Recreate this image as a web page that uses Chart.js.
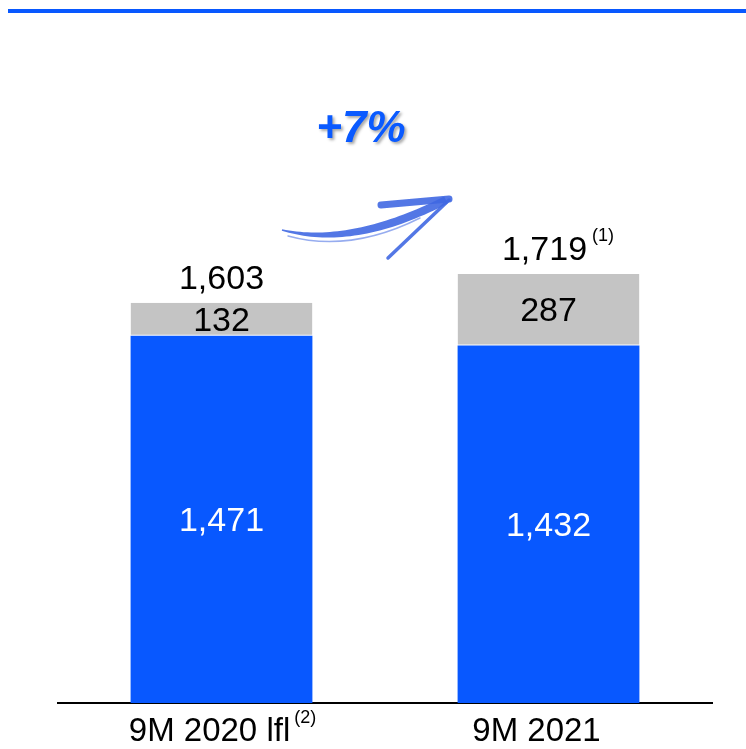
<!DOCTYPE html>
<html>
<head>
<meta charset="utf-8">
<script src="https://cdn.jsdelivr.net/npm/chart.js@4.4.1/dist/chart.umd.min.js"></script>
<style>
  html, body { margin: 0; padding: 0; background: #ffffff; }
</style>
</head>
<body>
<canvas id="chart" width="746" height="749"></canvas>
<script>
const periods = ['9M 2020 lfl', '9M 2021'];
const periodNotes = ['(2)', ''];
const baseValues = [1471, 1432];
const otherValues = [132, 287];
const totalNotes = ['', '(1)'];
const growthLabel = '+7%';

const BLUE = '#0858ff';
const GREY = '#c4c4c4';
const FONT = '"Liberation Sans", Arial, sans-serif';

const fmt = v => v.toLocaleString('en-US');

// thin blue rule across the top
const topRule = {
    id: 'topRule',
    beforeDraw(chart) {
        const ctx = chart.ctx;
        ctx.save();
        ctx.fillStyle = BLUE;
        ctx.fillRect(8, 9, chart.width - 8, 4);
        ctx.restore();
    }
};

// values inside the segments, totals above, footnote marks
const barText = {
    id: 'barText',
    afterDatasetsDraw(chart) {
        const ctx = chart.ctx;
        ctx.save();
        ctx.textAlign = 'center';
        ctx.textBaseline = 'middle';
        ctx.font = '34px ' + FONT;
        chart.data.datasets.forEach((ds, di) => {
            chart.getDatasetMeta(di).data.forEach((bar, i) => {
                ctx.fillStyle = di === 0 ? '#ffffff' : '#000000';
                ctx.fillText(fmt(ds.data[i]), bar.x, (bar.y + bar.base) / 2 + 2);
            });
        });

        ctx.textBaseline = 'alphabetic';
        chart.getDatasetMeta(1).data.forEach((bar, i) => {
            const total = baseValues[i] + otherValues[i];
            const txt = fmt(total);
            const shift = totalNotes[i] ? -4 : 0;
            const y = bar.y - 14;
            ctx.font = '34px ' + FONT;
            ctx.fillStyle = '#000000';
            ctx.textAlign = 'center';
            ctx.fillText(txt, bar.x + shift, y);
            if (totalNotes[i]) {
                const w = ctx.measureText(txt).width;
                ctx.font = '18px ' + FONT;
                ctx.textAlign = 'left';
                ctx.fillText(totalNotes[i], bar.x + shift + w / 2 + 5, y - 19);
            }
        });

        // footnote marks next to the category labels
        const xs = chart.scales.x;
        xs.getLabelItems().forEach((item, i) => {
            if (!periodNotes[i]) return;
            ctx.font = '33px ' + FONT;
            const w = ctx.measureText(periods[i]).width;
            const x = item.options.translation[0];
            ctx.font = '18px ' + FONT;
            ctx.textAlign = 'left';
            ctx.fillStyle = '#000000';
            ctx.fillText(periodNotes[i], x + w / 2 + 4, 742 - 19);
        });
        ctx.restore();
    }
};

// point on a quadratic curve
function qpt(p0, p1, p2, t) {
    const u = 1 - t;
    return [u * u * p0[0] + 2 * u * t * p1[0] + t * t * p2[0],
            u * u * p0[1] + 2 * u * t * p1[1] + t * t * p2[1]];
}

// growth badge with a brush-stroke arrow
const growth = {
    id: 'growth',
    afterDraw(chart) {
        const ctx = chart.ctx;
        ctx.save();
        ctx.font = 'italic bold 44px ' + FONT;
        ctx.textAlign = 'center';
        ctx.textBaseline = 'alphabetic';
        ctx.shadowColor = 'rgba(0,0,0,0.35)';
        ctx.shadowOffsetX = 2;
        ctx.shadowOffsetY = 2;
        ctx.shadowBlur = 3;
        ctx.fillStyle = '#0a5aff';
        ctx.fillText(growthLabel, 361, 142);
        ctx.restore();

        // tapered shaft
        const p0 = [282, 230], p1 = [352, 248], p2 = [446, 200];
        const left = [], right = [];
        const n = 40;
        for (let k = 0; k <= n; k++) {
            const t = k / n;
            const a = qpt(p0, p1, p2, t);
            const b = qpt(p0, p1, p2, Math.min(1, t + 0.01));
            const c = qpt(p0, p1, p2, Math.max(0, t - 0.01));
            let dx = b[0] - c[0], dy = b[1] - c[1];
            const len = Math.hypot(dx, dy) || 1;
            dx /= len; dy /= len;
            const hw = 0.8 + 3.2 * Math.sin(Math.PI * Math.min(1, t * 1.3) * 0.5);
            left.push([a[0] - dy * hw, a[1] + dx * hw]);
            right.push([a[0] + dy * hw, a[1] - dx * hw]);
        }
        ctx.save();
        ctx.fillStyle = 'rgba(64,104,226,0.9)';
        ctx.beginPath();
        left.forEach((p, k) => k ? ctx.lineTo(p[0], p[1]) : ctx.moveTo(p[0], p[1]));
        right.reverse().forEach(p => ctx.lineTo(p[0], p[1]));
        ctx.closePath();
        ctx.fill();

        ctx.lineCap = 'round';
        ctx.lineJoin = 'round';
        ctx.strokeStyle = 'rgba(64,104,226,0.55)';
        ctx.lineWidth = 1.5;
        ctx.beginPath();
        ctx.moveTo(288, 236);
        ctx.quadraticCurveTo(350, 253, 420, 218);
        ctx.stroke();

        // head
        ctx.strokeStyle = 'rgba(64,104,226,0.9)';
        ctx.lineWidth = 7;
        ctx.beginPath();
        ctx.moveTo(381, 205);
        ctx.lineTo(449, 199);
        ctx.stroke();
        ctx.lineWidth = 3.5;
        ctx.beginPath();
        ctx.moveTo(449, 200);
        ctx.lineTo(388, 258);
        ctx.stroke();
        ctx.restore();
    }
};

new Chart(document.getElementById('chart'), {
    type: 'bar',
    data: {
        labels: periods,
        datasets: [{
            data: baseValues,
            backgroundColor: BLUE,
            borderWidth: 0
        }, {
            data: otherValues,
            backgroundColor: GREY,
            borderColor: '#ffffff',
            borderWidth: { top: 0, left: 0, right: 0, bottom: 1 },
            borderSkipped: false
        }]
    },
    options: {
        responsive: false,
        animation: false,
        devicePixelRatio: 1,
        layout: { padding: { top: 29, left: 58, right: 34, bottom: 1 } },
        datasets: { bar: { barPercentage: 0.556, categoryPercentage: 1 } },
        plugins: { legend: { display: false }, tooltip: { enabled: false } },
        scales: {
            x: {
                stacked: true,
                border: { display: true, color: '#000000', width: 2 },
                grid: { display: true, color: 'rgba(0,0,0,0)', drawOnChartArea: false, drawTicks: true, tickLength: 12 },
                ticks: { color: '#000000', font: { family: FONT, size: 33, lineHeight: 1 }, padding: 0, labelOffset: -12 }
            },
            y: {
                stacked: true,
                display: false,
                min: 0,
                max: 2700
            }
        }
    },
    plugins: [topRule, barText, growth]
});
</script>
</body>
</html>
